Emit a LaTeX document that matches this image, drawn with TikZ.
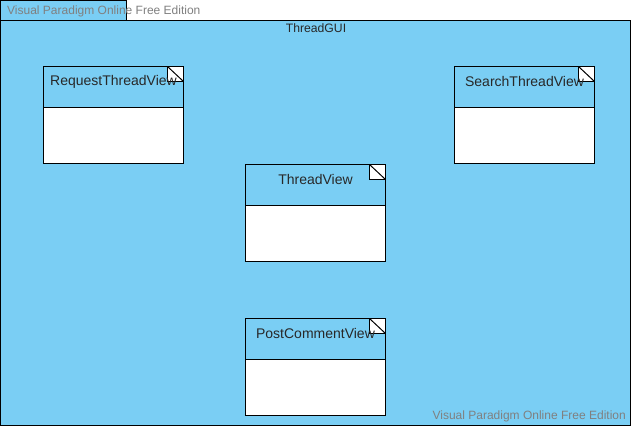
\documentclass[tikz,border=0pt]{standalone}
\usepackage{fontspec}
\setmainfont{Liberation Sans}
\definecolor{vpblue}{RGB}{122,206,244}
\definecolor{vptext}{RGB}{40,40,40}
\definecolor{wmgray}{RGB}{128,128,128}
\begin{document}
\begin{tikzpicture}[x=1pt,y=-1pt,
  classbox/.style={draw=black,fill=white,line width=1pt},
  headbox/.style={draw=black,fill=vpblue,line width=1pt},
  lbl/.style={font=\fontsize{14}{16}\selectfont,text=vptext,inner sep=0pt},
  wm/.style={font=\fontsize{12}{14}\selectfont,text=wmgray,inner sep=0pt}]
\useasboundingbox (0,0) rectangle (631,426);
\fill[white] (0,0) rectangle (631,426);
% package
\draw[fill=vpblue,line width=1pt] (0.5,0.5) rectangle (126,20.5);
\draw[fill=vpblue,line width=1pt] (0.5,20.5) rectangle (630.5,425.5);
\node[lbl,font=\fontsize{12.2}{14}\selectfont] (pkg) at (316,28) {ThreadGUI};
% classes
\newcommand{\umlclass}[4]{% name, x, y, label
  \draw[classbox] (#2,#3) rectangle ++(140,97);
  \draw[headbox] (#2,#3) rectangle ++(140,41);
  \draw[fill=white,line width=1pt] (#2+124,#3) -- (#2+140,#3) -- (#2+140,#3+15) -- (#2+124,#3+15) -- cycle;
  \draw[line width=1pt] (#2+124,#3) -- (#2+140,#3+15);
  \node[lbl] (#1) at (#2+70,#3+15) {#4};
}
\umlclass{rtv}{43.5}{66.5}{RequestThreadView}
\umlclass{stv}{454.5}{66.5}{SearchThreadView}
\umlclass{tv}{245.5}{164.5}{ThreadView}
\umlclass{pcv}{245.5}{318.5}{PostCommentView}
% watermarks
\node[wm,anchor=west] (wm1) at (7,11.5) {Visual Paradigm Online Free Edition};
\node[wm,anchor=east] (wm2) at (626,416.5) {Visual Paradigm Online Free Edition};
\end{tikzpicture}
\end{document}
